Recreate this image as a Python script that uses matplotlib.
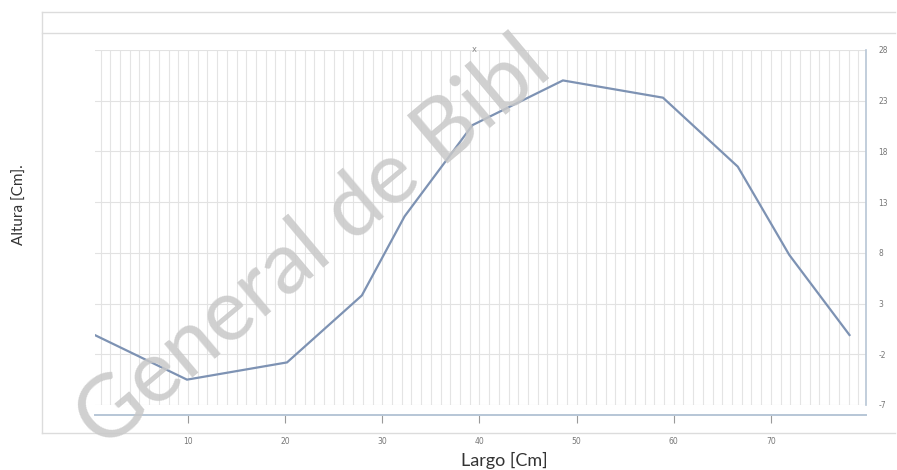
import matplotlib.pyplot as plt
from matplotlib.lines import Line2D
import numpy as np

# Data
largo = [0.4, 9.9, 20.2, 27.9, 32.3, 39.3, 48.6, 58.9, 66.6, 71.9, 78.1]
altura = [-0.1, -4.5, -2.8, 3.8, 11.6, 20.6, 25.0, 23.3, 16.5, 7.8, -0.1]
x_ticks = [10, 20, 30, 40, 50, 60, 70]
y_ticks = [-7, -2, 3, 8, 13, 18, 23, 28]

W, H = 897, 470
fig = plt.figure(figsize=(W / 100, H / 100), dpi=100)
fig.patch.set_facecolor("white")

# outer frame like the spreadsheet chart area
frame = "#dcdcdc"
fig.add_artist(Line2D([42 / W, 895 / W], [1 - 12 / H, 1 - 12 / H], color=frame, lw=1))
fig.add_artist(Line2D([42 / W, 895 / W], [1 - 33 / H, 1 - 33 / H], color=frame, lw=1))
fig.add_artist(Line2D([42 / W, 42 / W], [1 - 12 / H, 1 - 433 / H], color=frame, lw=1))
fig.add_artist(Line2D([42 / W, 895 / W], [1 - 433 / H, 1 - 433 / H], color=frame, lw=1))

ax = fig.add_axes([95 / W, 1 - 405 / H, (866 - 95) / W, (405 - 50) / H])
ax.plot(largo, altura, color="#7d92b3", lw=1.6, solid_joinstyle="miter")

ax.set_xlim(0.43, 79.8)
ax.set_ylim(-7, 28)

# dense vertical grid + horizontal grid every 5
for xv in np.arange(1, 80, 1.0):
    ax.axvline(xv, color="#e4e4e4", lw=0.8, zorder=0)
for yv in y_ticks:
    ax.axhline(yv, color="#e2e2e2", lw=0.8, zorder=0)

ax.yaxis.tick_right()
ax.set_yticks(y_ticks)
ax.set_yticklabels([str(v) for v in y_ticks])
ax.set_xticks(x_ticks)
ax.set_xticklabels([str(v) for v in x_ticks])
ax.tick_params(axis="y", length=0, pad=9, labelsize=5.5, labelcolor="#777777")
ax.tick_params(axis="x", length=6, width=0.8, color="#999999", pad=10,
               labelsize=5.5, labelcolor="#777777")

for s in ["top", "left"]:
    ax.spines[s].set_visible(False)
ax.spines["right"].set_color("#b7c6d6")
ax.spines["right"].set_linewidth(1.2)
ax.spines["bottom"].set_color("#b7c6d6")
ax.spines["bottom"].set_linewidth(1.4)
ax.spines["bottom"].set_position(("outward", 7))

fig.text(504 / W, 1 - 460 / H, "Largo [Cm]", ha="center", va="center",
         fontsize=13, family="Lato", color="#333333")
fig.text(20 / W, 1 - 205 / H, "Altura [Cm].", ha="center", va="center",
         rotation=90, fontsize=11, family="Lato", color="#333333")
fig.text(474 / W, 1 - 50 / H, "x", ha="center", va="center",
         fontsize=6, color="#888888")

# library watermark across the chart
fig.text(104 / W, 1 - 452 / H, "General de Bibl", rotation=40,
         rotation_mode="anchor", ha="left", va="baseline",
         fontsize=63, family="Lato", color="#c8c8c8", alpha=0.85)

fig.savefig("out.png", dpi=100)
